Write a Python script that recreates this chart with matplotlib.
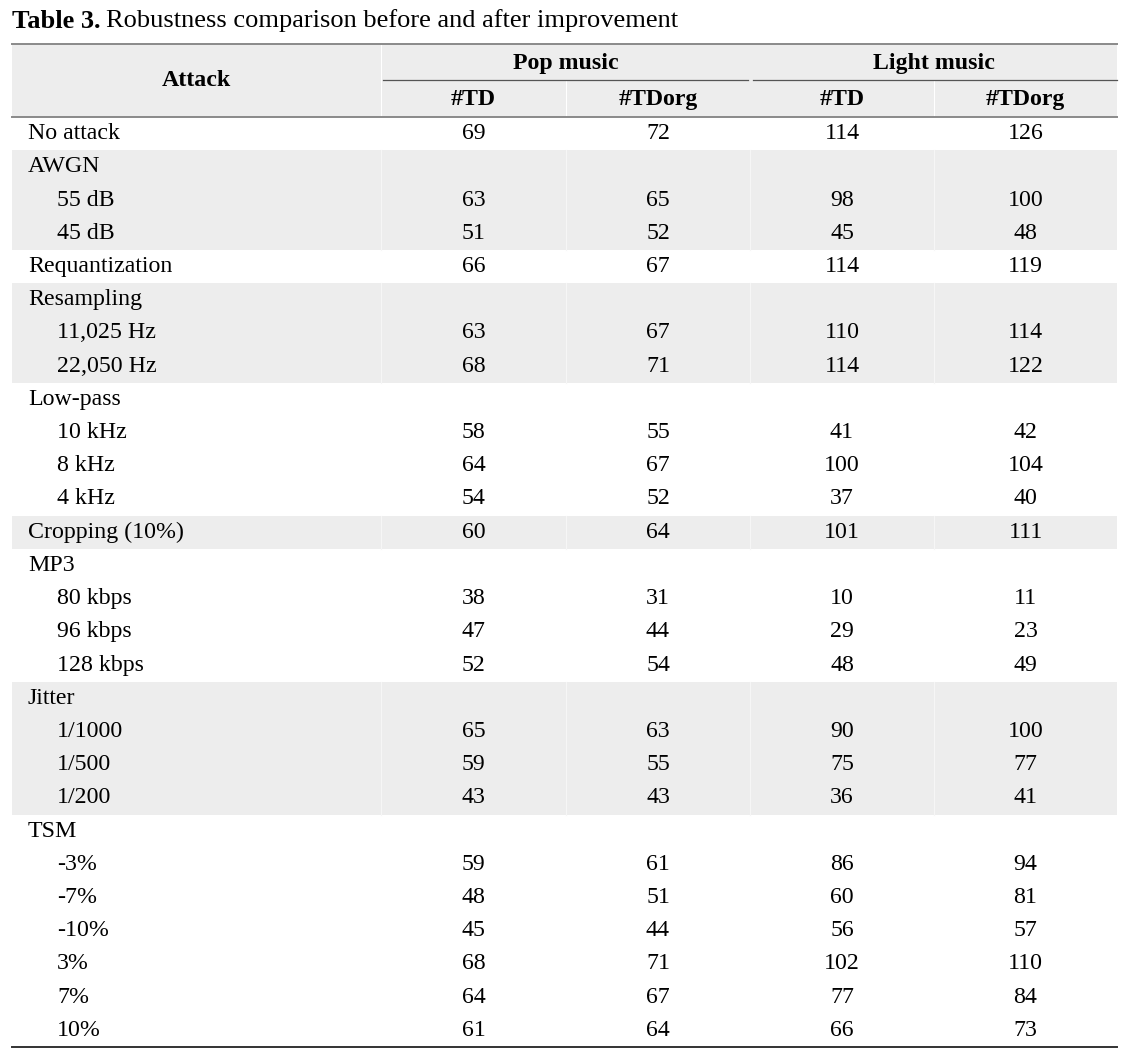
import matplotlib.pyplot as plt

# table rows (None = group heading, no values)
row_labels = ["No attack", "AWGN", "55 dB", "45 dB", "Requantization",
              "Resampling", "11,025 Hz", "22,050 Hz",
              "Low-pass", "10 kHz", "8 kHz", "4 kHz", "Cropping (10%)",
              "MP3", "80 kbps", "96 kbps", "128 kbps",
              "Jitter", "1/1000", "1/500", "1/200",
              "TSM", "-3%", "-7%", "-10%", "3%", "7%", "10%"]
sub_rows = ["55 dB", "45 dB", "11,025 Hz", "22,050 Hz", "10 kHz", "8 kHz", "4 kHz",
            "80 kbps", "96 kbps", "128 kbps", "1/1000", "1/500", "1/200",
            "-3%", "-7%", "-10%", "3%", "7%", "10%"]
pop_td = [69, None, 63, 51, 66, None, 63, 68, None, 58, 64, 54, 60,
          None, 38, 47, 52, None, 65, 59, 43, None, 59, 48, 45, 68, 64, 61]
pop_tdorg = [72, None, 65, 52, 67, None, 67, 71, None, 55, 67, 52, 64,
             None, 31, 44, 54, None, 63, 55, 43, None, 61, 51, 44, 71, 67, 64]
light_td = [114, None, 98, 45, 114, None, 110, 114, None, 41, 100, 37, 101,
            None, 10, 29, 48, None, 90, 75, 36, None, 86, 60, 56, 102, 77, 66]
light_tdorg = [126, None, 100, 48, 119, None, 114, 122, None, 42, 104, 40, 111,
               None, 11, 23, 49, None, 100, 77, 41, None, 94, 81, 57, 110, 84, 73]

col_heads = ["#TD", "#TDorg", "#TD", "#TDorg"]
groups = ["Pop music", "Light music"]

plt.rcParams['font.family'] = ['Liberation Serif', 'DejaVu Serif']

W, H = 1137, 1051
fig = plt.figure(figsize=(W / 100, H / 100), dpi=100)
ax = fig.add_axes([0, 0, 1, 1])
ax.set_xlim(0, W)
ax.set_ylim(H, 0)
ax.axis('off')

fs = 17.2
shade = '#ededed'

left, right = 12, 1117
col_x = [12, 381, 566, 750, 934, 1117]
top, head_mid, head_bot = 44, 80, 117
row_h = (1047 - head_bot) / len(row_labels)

# title: bold lead-in, then regular text right after it
t1 = ax.text(left, 21, "Table 3.", fontsize=19, fontweight='bold', va='center', ha='left')
fig.canvas.draw()
bb = t1.get_window_extent()
ax.text(bb.x1 + 5, 21, "Robustness comparison before and after improvement",
        fontsize=19, va='center', ha='left')

# header
ax.add_patch(plt.Rectangle((left, top), right - left, head_bot - top, color=shade, lw=0))
ax.plot([381, 381], [top, head_bot], color='white', lw=0.8)
for x in (566, 934):
    ax.plot([x, x], [head_mid, head_bot], color='white', lw=0.8)
ax.plot([left, right], [top, top], color='#8a8a8a', lw=1.4)
ax.plot([left, right], [head_bot, head_bot], color='#8a8a8a', lw=1.4)
ax.plot([383, 748], [head_mid, head_mid], color='#555555', lw=0.9)
ax.plot([753, right], [head_mid, head_mid], color='#555555', lw=0.9)
ax.text((col_x[0] + col_x[1]) / 2, (top + head_bot) / 2, "Attack", fontsize=fs,
        fontweight='bold', ha='center', va='center')
for g, name in enumerate(groups):
    ax.text((col_x[1 + 2 * g] + col_x[3 + 2 * g]) / 2, (top + head_mid) / 2 + 1, name,
            fontsize=fs, fontweight='bold', ha='center', va='center')
for c, name in enumerate(col_heads):
    ax.text((col_x[c + 1] + col_x[c + 2]) / 2, (head_mid + head_bot) / 2 + 1, name,
            fontsize=fs, fontweight='bold', ha='center', va='center')

# body: shading alternates per attack group
shaded = False
spans = []
for i, lab in enumerate(row_labels):
    if lab not in sub_rows and i > 0:
        shaded = not shaded
    if shaded:
        if spans and spans[-1][1] == i:
            spans[-1][1] = i + 1
        else:
            spans.append([i, i + 1])
    yc = head_bot + (i + 0.5) * row_h
    indent = 57 if lab in sub_rows else 28
    ax.text(indent, yc, lab, fontsize=fs, ha='left', va='center')
    for c, vals in enumerate([pop_td, pop_tdorg, light_td, light_tdorg]):
        if vals[i] is not None:
            ax.text((col_x[c + 1] + col_x[c + 2]) / 2, yc, str(vals[i]), fontsize=fs,
                    ha='center', va='center')

for a, b in spans:
    y0, y1 = head_bot + a * row_h, head_bot + b * row_h
    ax.add_patch(plt.Rectangle((left, y0), right - left, y1 - y0, color=shade, lw=0, zorder=0))
    for x in col_x[1:-1]:
        ax.plot([x, x], [y0, y1], color='#f6f6f6', lw=0.8, zorder=0.5)

ax.plot([left, right], [1047, 1047], color='#333333', lw=1.4)

fig.savefig('out.png', dpi=100, facecolor='white')
